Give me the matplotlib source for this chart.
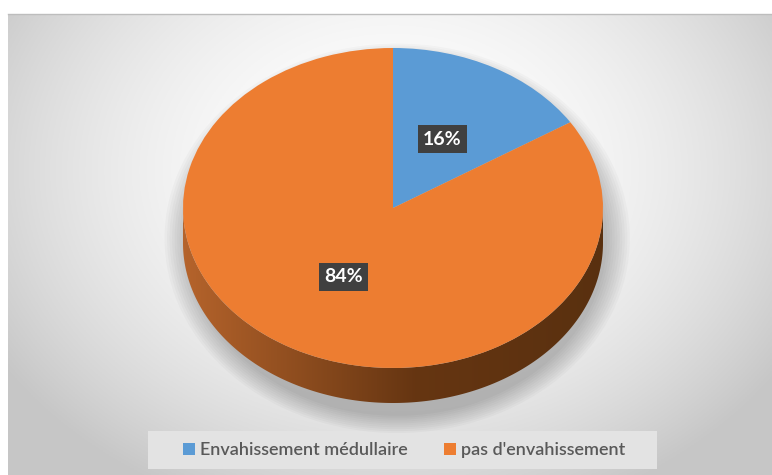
import matplotlib
matplotlib.use("Agg")
import matplotlib.pyplot as plt
import numpy as np
from matplotlib.patches import Ellipse, Polygon, Rectangle


# -----
# DATA
# -----
labels = ["Envahissement médullaire", "pas d'envahissement"]
values = [16, 84]
colors = ["#5b9bd5", "#ed7d31"]

plt.rcParams["font.family"] = ["Lato", "DejaVu Sans"]

W, H = 772, 475
fig = plt.figure(figsize=(W / 100, H / 100), dpi=100)
fig.patch.set_facecolor("white")

# ---------------------------
# BACKGROUND (pixel coords)
# ---------------------------
bg = fig.add_axes([0, 0, 1, 1])
bg.set_xlim(0, W)
bg.set_ylim(H, 0)
bg.axis("off")

left, top = 8, 14
xx, yy = np.meshgrid(np.linspace(left, W, 400), np.linspace(top, H, 260))
r = np.sqrt(((xx - 393) / 420) ** 2 + ((yy - 170) / 330) ** 2)
shade = 1 - 0.22 * np.clip(r, 0, 1.1) ** 2 / 1.21
bg.imshow(np.dstack([shade] * 3), extent=(left, W, H, top), aspect="auto", zorder=0)
bg.plot([left, W], [top, top], color="#bdbdbd", lw=1, zorder=1)

# legend frame
bg.add_patch(Rectangle((148, 431), 509, 38, facecolor="#e3e3e3", edgecolor="none", zorder=1))

# ---------
# PIE AXES
# ---------
cx, cy, rx, ry, depth = 393, 208, 210, 160, 35
d = depth / ry
pie_top = cy - ry
pie_bottom = cy + ry + depth
ax = fig.add_axes([(cx - rx) / W, (H - pie_bottom) / H, 2 * rx / W, (pie_bottom - pie_top) / H])
ax.patch.set_alpha(0)

# soft shadow under the disc, mostly below and to the right
for i in range(10):
    grow = 0.012 * i
    ax.add_patch(Ellipse((0.02, -d / 2 - 0.08), 2 + 2 * grow, 2 + d + 2 * grow,
                         facecolor="black", edgecolor="none", alpha=0.022, zorder=0,
                         clip_on=False))

# side wall of the disc, shaded left to right
t = np.linspace(np.pi, 2 * np.pi, 200)
side = np.concatenate([np.column_stack([np.cos(t), np.sin(t)]),
                       np.column_stack([np.cos(t[::-1]), np.sin(t[::-1]) - d])])
side_patch = Polygon(side, closed=True, facecolor="none", edgecolor="none")
ax.add_patch(side_patch)
gx = np.linspace(0, 1, 300)
c0 = np.array([0.71, 0.39, 0.17])
c1 = np.array([0.40, 0.21, 0.07])
c2 = np.array([0.35, 0.19, 0.06])
k = np.clip(gx / 0.55, 0, 1)[:, None]
grad = np.where(gx[:, None] < 0.55, c0 * (1 - k) + c1 * k,
                c1 + (c2 - c1) * ((gx[:, None] - 0.55) / 0.45))
img = ax.imshow(grad[None, :, :], extent=(-1, 1, -1 - d, 0), aspect="auto", zorder=1)
img.set_clip_path(side_patch)

# top face
wedges, texts, autotexts = ax.pie(
    values,
    colors=colors,
    startangle=90,
    counterclock=False,
    autopct=lambda p: f"{p:.0f}%",
    pctdistance=0.49,
    wedgeprops={"edgecolor": "none", "zorder": 2},
    textprops={"fontsize": 14, "fontweight": "bold", "color": "white"},
)
for w in wedges:
    w.set_zorder(2)
for a in autotexts:
    a.set_zorder(4)
    a.set_bbox({"boxstyle": "square,pad=0.28", "facecolor": "#404040", "edgecolor": "none"})

ax.set_aspect("auto")
ax.set_xlim(-1, 1)
ax.set_ylim(-1 - d, 1)
ax.axis("off")

# --------
# LEGEND
# --------
fig.legend(
    wedges,
    labels,
    loc="center",
    bbox_to_anchor=((186 + 623) / 2 / W, 1 - 450 / H),
    ncol=2,
    frameon=False,
    labelcolor="#595959",
    handlelength=0.65,
    handleheight=0.65,
    handletextpad=0.3,
    columnspacing=2.0,
    prop={"size": 13, "weight": "semibold"},
)

fig.savefig("out.png", dpi=100)
